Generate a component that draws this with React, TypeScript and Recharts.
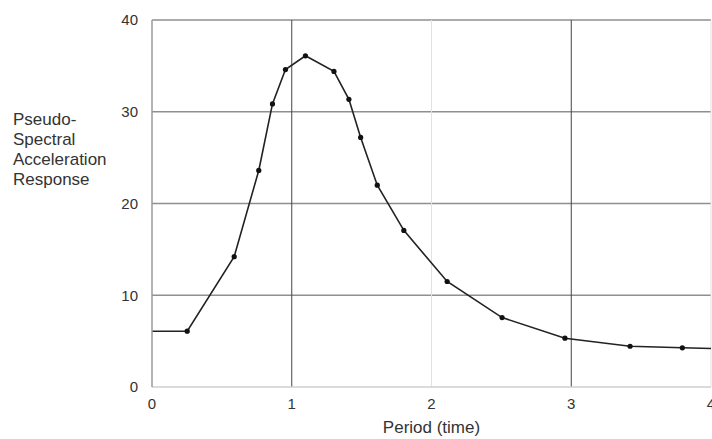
import React from 'react';
import { LineChart, Line, XAxis, YAxis, ReferenceLine, Label } from 'recharts';

const periods = [0, 0.252, 0.588, 0.764, 0.862, 0.955, 1.098, 1.302, 1.409, 1.493, 1.612, 1.802, 2.112, 2.505, 2.955, 3.421, 3.795, 4.0];
const accel = [6.08, 6.08, 14.2, 23.6, 30.85, 34.6, 36.1, 34.4, 31.35, 27.2, 22.0, 17.07, 11.5, 7.57, 5.32, 4.44, 4.27, 4.2];
const xTicks = [0, 1, 2, 3, 4];
const yTicks = [0, 10, 20, 30, 40];
const yLabelLines = ['Pseudo-', 'Spectral', 'Acceleration', 'Response'];
const xLabel = 'Period (time)';

const data = periods.map((p, i) => ({ period: p, accel: accel[i] }));

const FONT = '"Liberation Sans", Arial, Helvetica, sans-serif';

const Dot = (props: any) => {
  const { cx, cy, index } = props;
  if (index === 0 || index === data.length - 1) return <g key={`d${index}`} />;
  return <circle key={`d${index}`} cx={cx} cy={cy} r={2.6} fill="#111" stroke="none" />;
};

const YLabel = () => (
  <text x={13} y={124.5} fontFamily={FONT} fontSize={17} fill="#333">
    {yLabelLines.map((l, i) => (
      <tspan key={l} x={13} y={124.5 + i * 20}>{l}</tspan>
    ))}
  </text>
);

export default function App() {
  return (
    <div style={{ position: 'absolute', left: 0, top: 0, background: '#fff' }}>
      <LineChart
        width={712}
        height={439}
        data={data}
        margin={{ top: 20, right: 1, bottom: 22, left: 92 }}
      >
        <XAxis
          dataKey="period"
          type="number"
          domain={[0, 4]}
          ticks={xTicks}
          height={30}
          tickSize={0}
          tickMargin={11}
          tickLine={false}
          axisLine={{ stroke: '#cfcfcf', strokeWidth: 1.5 }}
          tick={{ fill: '#333', fontSize: 15, fontFamily: FONT }}
          interval={0}
        >
          <Label value={xLabel} position="bottom" offset={4} fill="#333" fontSize={17} fontFamily={FONT} />
        </XAxis>
        <YAxis
          type="number"
          domain={[0, 40]}
          ticks={yTicks}
          width={60}
          tickSize={0}
          tickMargin={14}
          tickLine={false}
          axisLine={{ stroke: '#9a9a9a', strokeWidth: 1.5 }}
          tick={{ fill: '#333', fontSize: 15, fontFamily: FONT }}
          interval={0}
          label={{ content: YLabel }}
        />
        <ReferenceLine y={10} stroke="#8f8f8f" strokeWidth={1.4} />
        <ReferenceLine y={20} stroke="#8f8f8f" strokeWidth={1.4} />
        <ReferenceLine y={30} stroke="#8f8f8f" strokeWidth={1.4} />
        <ReferenceLine y={40} stroke="#8f8f8f" strokeWidth={1.6} />
        <ReferenceLine x={1} stroke="#444" strokeWidth={1} />
        <ReferenceLine x={2} stroke="#e2e2e2" strokeWidth={1} />
        <ReferenceLine x={3} stroke="#444" strokeWidth={1} />
        <ReferenceLine x={4} stroke="#e2e2e2" strokeWidth={1} />
        <Line
          dataKey="accel"
          type="linear"
          stroke="#222"
          strokeWidth={1.6}
          dot={Dot}
          activeDot={false}
          isAnimationActive={false}
        />
      </LineChart>
    </div>
  );
}
